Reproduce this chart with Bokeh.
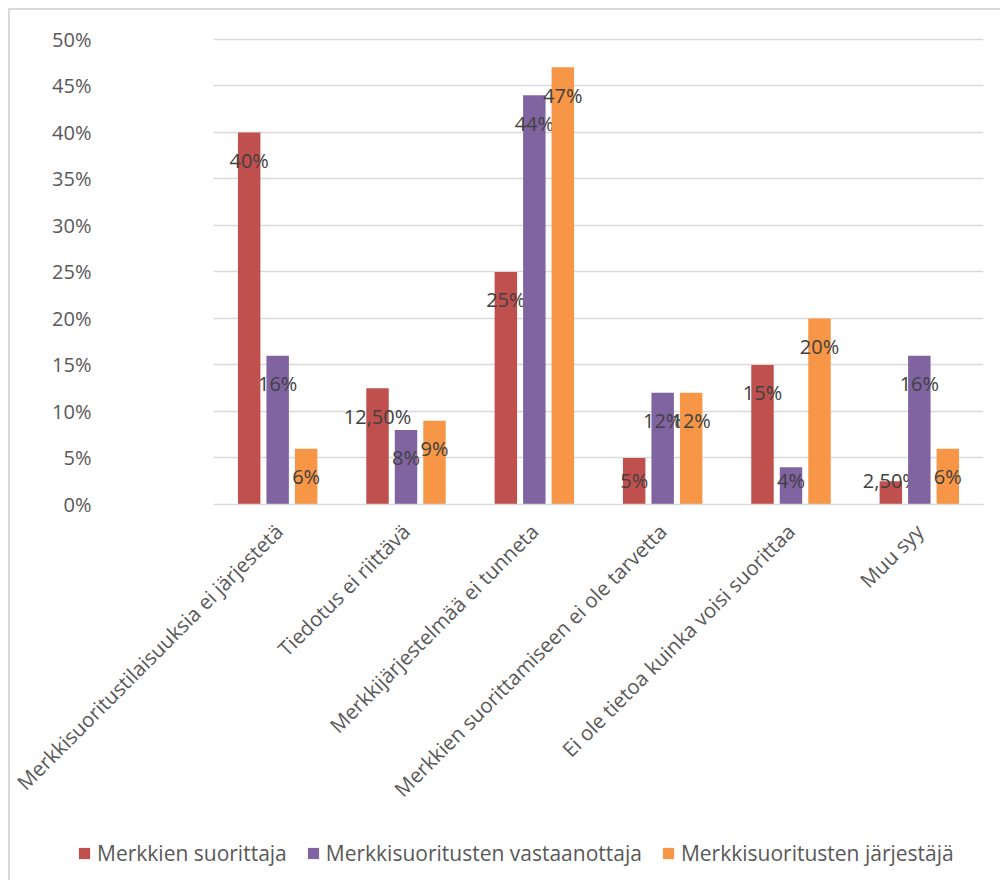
from bokeh.plotting import figure
from bokeh.layouts import column
from bokeh.models import (FactorRange, ColumnDataSource, Legend, LegendItem,
                          PrintfTickFormatter, Range1d, FixedTicker)
from bokeh.transform import dodge
from bokeh.core.properties import value
from bokeh.embed import file_html
from bokeh.resources import INLINE
import math

categories = [
    "Merkkisuoritustilaisuuksia ei järjestetä",
    "Tiedotus ei riittävä",
    "Merkkijärjestelmää ei tunneta",
    "Merkkien suorittamiseen ei ole tarvetta",
    "Ei ole tietoa kuinka voisi suorittaa",
    "Muu syy",
]
series_names = ["Merkkien suorittaja", "Merkkisuoritusten vastaanottaja", "Merkkisuoritusten järjestäjä"]
suorittaja = [40, 12.5, 25, 5, 15, 2.5]
vastaanottaja = [16, 8, 44, 12, 4, 16]
jarjestaja = [6, 9, 47, 12, 20, 6]
y_ticks = [0, 5, 10, 15, 20, 25, 30, 35, 40, 45, 50]

colors = ["#C0504D", "#8064A2", "#F79646"]
FONT = "Open Sans"


def fmt(v):
    if float(v).is_integer():
        return f"{int(v)}%"
    return f"{v:.2f}%".replace(".", ",")


p = figure(x_range=FactorRange(*categories), y_range=Range1d(0, 50.2),
           width=990, height=820, output_backend="svg", toolbar_location=None,
           min_border_left=203, min_border_right=17, min_border_top=27, min_border_bottom=326)
p.frame_align = False
p.outline_line_color = None
p.xgrid.grid_line_color = None
p.ygrid.grid_line_color = "#d9d9d9"
p.ygrid.grid_line_width = 1.5

p.yaxis.ticker = FixedTicker(ticks=y_ticks)
p.yaxis.formatter = PrintfTickFormatter(format="%d%%")
p.yaxis.axis_line_color = None
p.yaxis.major_tick_line_color = None
p.yaxis.minor_tick_line_color = None
p.yaxis.major_label_standoff = 116
p.yaxis.major_label_text_font = FONT
p.yaxis.major_label_text_font_size = "20px"
p.yaxis.major_label_text_color = "#595959"

p.xaxis.axis_line_color = "#d9d9d9"
p.xaxis.axis_line_width = 1.5
p.xaxis.major_tick_line_color = None
p.xaxis.minor_tick_line_color = None
p.xaxis.major_label_orientation = math.pi / 4
p.xaxis.major_label_standoff = 17
p.xaxis.major_label_text_font = FONT
p.xaxis.major_label_text_font_size = "20.5px"
p.xaxis.major_label_text_color = "#595959"

# legend strip: its bars lie entirely below its visible y range; only the legend shows
p2 = figure(width=990, height=50, output_backend="svg", toolbar_location=None,
            x_axis_type=None, y_axis_type=None, min_border=0,
            x_range=FactorRange(*categories), y_range=Range1d(1000, 1010))
p2.frame_align = False
p2.outline_line_color = None
p2.grid.visible = False

offsets = [-0.222, 0.0, 0.222]
items = []
for vals, name, col, off in zip([suorittaja, vastaanottaja, jarjestaja], series_names, colors, offsets):
    src = ColumnDataSource(dict(
        cat=categories, val=vals,
        ly=[max(v - 3.0, 2.6) for v in vals],
        lab=[fmt(v) for v in vals],
    ))
    p.vbar(x=dodge("cat", off, range=p.x_range), top="val", width=0.175, source=src,
           fill_color=col, line_color=None)
    p.text(x=dodge("cat", off, range=p.x_range), y="ly", text="lab", source=src,
           text_align="center", text_baseline="middle", text_color="#404040",
           text_font=value(FONT), text_font_size="20px")
    r = p2.vbar(x=dodge("cat", off, range=p2.x_range), top="val", width=0.175, source=src,
                fill_color=col, line_color=None)
    items.append(LegendItem(label=name, renderers=[r]))

legend = Legend(items=items, orientation="horizontal", location=(67, 13),
                label_text_font=FONT, label_text_font_size="21px", label_text_color="#595959",
                glyph_width=14, glyph_height=14, label_standoff=6, spacing=19,
                padding=0, margin=0, border_line_color=None, background_fill_alpha=0)
p2.add_layout(legend, "center")

layout = column(p, p2, spacing=0)
layout.styles = {"border-top": "2px solid #d9d9d9", "border-left": "2px solid #d9d9d9",
                 "margin-left": "8px", "margin-top": "8px"}

open("out.html", "w").write(file_html(layout, INLINE))
